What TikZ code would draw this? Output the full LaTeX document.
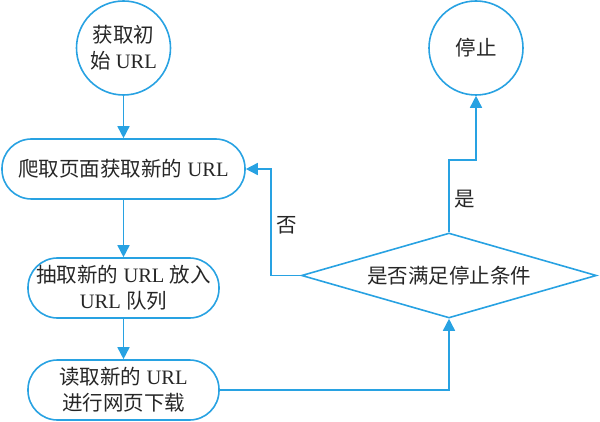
\documentclass[tikz,border=0pt]{standalone}
\usepackage{fontspec}
\setmainfont{Liberation Serif}
\newfontfamily\cjk{Noto Sans CJK SC}
\newcommand\zhs[1]{{\cjk #1}}
\usetikzlibrary{shapes.geometric,arrows.meta}
\definecolor{flowblue}{RGB}{40,162,226}
\begin{document}
\begin{tikzpicture}[x=1pt,y=-1pt,
  every node/.style={font=\fontsize{20.5}{26}\selectfont, text=black!85, align=center},
  line/.style={draw=flowblue, line width=1.6pt},
  arr/.style={line, -{Triangle[length=12pt,width=12pt]}},
  circ/.style={line, circle, minimum size=94pt, inner sep=0pt},
  pill/.style={line, rectangle, rounded corners=29.5pt, minimum height=60pt, inner sep=0pt},
  decis/.style={line, diamond, aspect=3.47, minimum width=295pt, minimum height=85pt, inner sep=0pt}]
\useasboundingbox (0,0) rectangle (600,422);
\node[circ] (start) at (123.5,48) {\zhs{获取初}\\\zhs{始} URL};
\node[pill, minimum width=243pt] (crawl) at (123.5,169) {\zhs{爬取页面获取新的} URL};
\node[pill, minimum width=191pt] (extract) at (123.5,288) {\zhs{抽取新的} URL \zhs{放入}\\URL \zhs{队列}};
\node[pill, minimum width=191pt] (read) at (123.5,390) {\zhs{读取新的} URL\\\zhs{进行网页下载}};
\node[decis] (dec) at (449,275.5) {\zhs{是否满足停止条件}};
\node[circ] (stop) at (476,48) {\zhs{停止}};
\coordinate (nocorner) at (271,275.5);
\coordinate (yescorner) at (449,160);
\draw[arr] (start) -- (crawl);
\draw[arr] (crawl) -- (extract);
\draw[arr] (extract) -- (read);
\draw[arr] (read.east) -| (dec.south);
\draw[arr] (dec.west) -- (nocorner) |- (crawl.east);
\draw[arr] (dec.north) -- (yescorner) -| (stop.south);
\node (nolbl) at (287,225) {\zhs{否}};
\node (yeslbl) at (465,199) {\zhs{是}};
\end{tikzpicture}
\end{document}
